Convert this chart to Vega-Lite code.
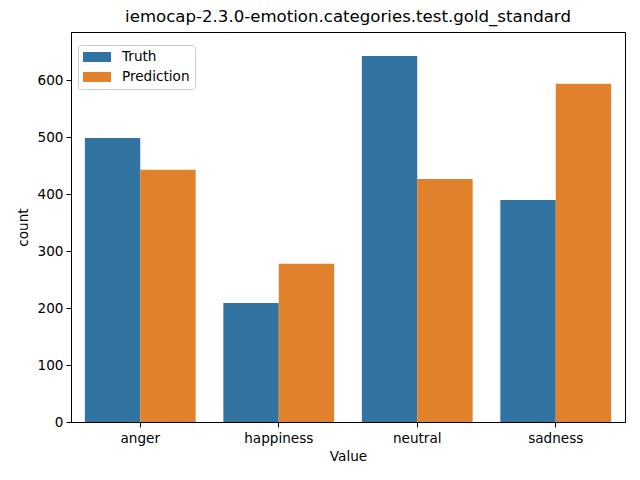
{
  "$schema": "https://vega.github.io/schema/vega-lite/v6.json",
  "width": 554,
  "height": 390,
  "autosize": "none",
  "padding": {"left": 71, "top": 32, "right": 15, "bottom": 58},
  "background": "white",
  "title": {
    "text": "iemocap-2.3.0-emotion.categories.test.gold_standard",
    "font": "DejaVu Sans",
    "fontSize": 16.6,
    "fontWeight": "normal",
    "color": "black",
    "anchor": "middle",
    "offset": 6
  },
  "config": {
    "view": {"stroke": "black", "strokeWidth": 1},
    "font": "DejaVu Sans"
  },
  "data": {
    "values": [
      {"Value": "anger", "series": "Truth", "count": 499},
      {"Value": "anger", "series": "Prediction", "count": 443},
      {"Value": "happiness", "series": "Truth", "count": 209},
      {"Value": "happiness", "series": "Prediction", "count": 278},
      {"Value": "neutral", "series": "Truth", "count": 643},
      {"Value": "neutral", "series": "Prediction", "count": 427},
      {"Value": "sadness", "series": "Truth", "count": 390},
      {"Value": "sadness", "series": "Prediction", "count": 594}
    ]
  },
  "mark": {"type": "bar"},
  "encoding": {
    "x": {
      "field": "Value",
      "type": "nominal",
      "scale": {"paddingInner": 0.2, "paddingOuter": 0.1},
      "axis": {
        "title": "Value",
        "labelAngle": 0,
        "labelFontSize": 13.6,
        "labelColor": "black",
        "titleFontSize": 13.6,
        "titleFontWeight": "normal",
        "titleColor": "black",
        "titlePadding": 5,
        "domainColor": "black",
        "tickColor": "black",
        "tickSize": 5,
        "labelPadding": 4
      }
    },
    "xOffset": {"field": "series", "type": "nominal", "sort": ["Truth", "Prediction"]},
    "y": {
      "field": "count",
      "type": "quantitative",
      "scale": {"domain": [0, 685], "nice": false},
      "axis": {
        "title": "count",
        "values": [0, 100, 200, 300, 400, 500, 600],
        "grid": false,
        "labelFontSize": 13.6,
        "labelColor": "black",
        "titleFontSize": 13.6,
        "titleFontWeight": "normal",
        "titleColor": "black",
        "titlePadding": 7,
        "domainColor": "black",
        "tickColor": "black",
        "tickSize": 5,
        "labelPadding": 3
      }
    },
    "color": {
      "field": "series",
      "type": "nominal",
      "sort": ["Truth", "Prediction"],
      "scale": {"domain": ["Truth", "Prediction"], "range": ["#3274a1", "#e1812c"]},
      "legend": {
        "title": null,
        "orient": "none",
        "legendX": 7,
        "legendY": 13,
        "fillColor": "white",
        "strokeColor": "#cccccc",
        "cornerRadius": 3,
        "padding": 5,
        "rowPadding": 6,
        "symbolType": "M-1,-0.714H3V0.714H-1Z",
        "symbolSize": 196,
        "symbolStrokeWidth": 0,
        "symbolOpacity": 1,
        "labelFontSize": 13.6,
        "labelColor": "black",
        "labelOffset": 25
      }
    }
  }
}
